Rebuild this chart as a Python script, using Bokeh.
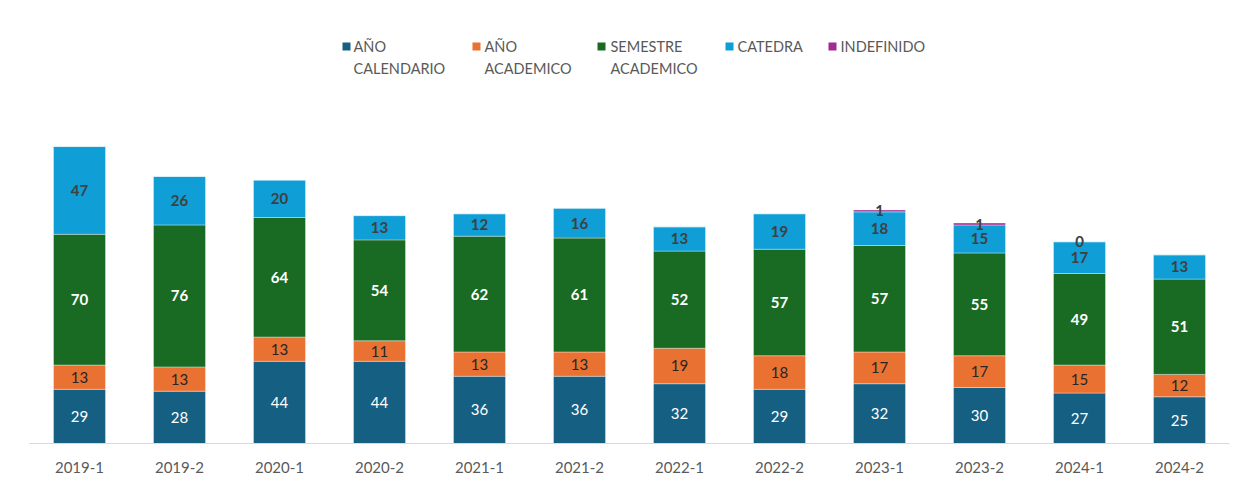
from bokeh.plotting import figure
from bokeh.models import ColumnDataSource, LabelSet, Label, BoxAnnotation, Range1d
from bokeh.embed import file_html
from bokeh.resources import INLINE
from bokeh.core.properties import value
import numpy as np

periods = ["2019-1", "2019-2", "2020-1", "2020-2", "2021-1", "2021-2",
           "2022-1", "2022-2", "2023-1", "2023-2", "2024-1", "2024-2"]
ano_calendario = [29, 28, 44, 44, 36, 36, 32, 29, 32, 30, 27, 25]
ano_academico = [13, 13, 13, 11, 13, 13, 19, 18, 17, 17, 15, 12]
semestre_academico = [70, 76, 64, 54, 62, 61, 52, 57, 57, 55, 49, 51]
catedra = [47, 26, 20, 13, 12, 16, 13, 19, 18, 15, 17, 13]
indefinido = [None, None, None, None, None, None, None, None, 1, 1, 0, None]

series = ["cal", "acad", "sem", "cat", "ind"]
legend_lines = [["AÑO", "CALENDARIO"], ["AÑO", "ACADEMICO"], ["SEMESTRE", "ACADEMICO"],
                ["CATEDRA"], ["INDEFINIDO"]]
colors = ["#156082", "#E97132", "#196B24", "#0F9ED5", "#A02B93"]
label_colors = ["#FFFFFF", "#262626", "#FFFFFF", "#404040", "#404040"]
label_styles = ["normal", "normal", "bold", "bold", "bold"]

vals = [ano_calendario, ano_academico, semestre_academico, catedra, indefinido]
data = {"period": periods}
for s, v in zip(series, vals):
    data[s] = [0 if x is None else x for x in v]
source = ColumnDataSource(data)

# layout (pixels)
W, H = 1241, 477
BL, BR, BT, BB = 29, 12, 10, 34
YMAX = 231.8
frame_w = W - BL - BR
frame_h = H - BT - BB

p = figure(x_range=periods, width=W, height=H, output_backend="svg",
           toolbar_location=None, min_border_left=BL, min_border_right=BR,
           min_border_top=BT, min_border_bottom=BB)
p.y_range = Range1d(0, YMAX)
p.x_range.range_padding = 0

rs = p.vbar_stack(series, x="period", width=0.52, source=source, color=colors,
                  line_color="#FFFFFF", line_width=0.6, line_alpha=0.6)

# data labels
cum = np.zeros(len(periods))
for i, (s, v) in enumerate(zip(series, vals)):
    arr = np.array(data[s], dtype=float)
    mids = cum + arr / 2.0
    cum = cum + arr
    xs, ys, ts = [], [], []
    for j, x in enumerate(v):
        if x is None:
            continue
        xs.append(periods[j]); ys.append(mids[j]); ts.append(str(x))
    src = ColumnDataSource(dict(x=xs, y=ys, t=ts))
    p.add_layout(LabelSet(x="x", y="y", text="t", source=src,
                          text_align="center", text_baseline="middle",
                          text_font=value("Lato"), text_font_size="15px",
                          text_font_style=label_styles[i],
                          text_color=label_colors[i]))

# legend drawn at fixed pixel positions (converted to data units)
def dx(px):
    return (px - BL) / frame_w * len(periods)

def dy(py):
    return (H - BB - py) / frame_h * YMAX

sq_left = [342, 472, 597, 725, 828]
txt_left = [353, 484, 610, 737, 840]
SQ = 8
for i in range(5):
    p.add_layout(BoxAnnotation(left=dx(sq_left[i]), right=dx(sq_left[i] + SQ),
                               top=dy(42), bottom=dy(42 + SQ),
                               fill_color=colors[i], fill_alpha=1,
                               line_color=None))
    for k, line in enumerate(legend_lines[i]):
        p.add_layout(Label(x=dx(txt_left[i]), y=dy(46 + 22 * k), text=line,
                           text_align="left", text_baseline="middle",
                           text_font="Lato", text_font_size="14.5px",
                           text_color="#595959"))

p.yaxis.visible = False
p.xgrid.grid_line_color = None
p.ygrid.grid_line_color = None
p.outline_line_color = None
p.xaxis.axis_line_color = "#D9D9D9"
p.xaxis.major_tick_line_color = None
p.xaxis.minor_tick_line_color = None
p.xaxis.major_label_text_font = "Lato"
p.xaxis.major_label_text_font_size = "15px"
p.xaxis.major_label_text_color = "#595959"
p.xaxis.major_label_standoff = 12

open("out.html", "w").write(file_html(p, INLINE))
